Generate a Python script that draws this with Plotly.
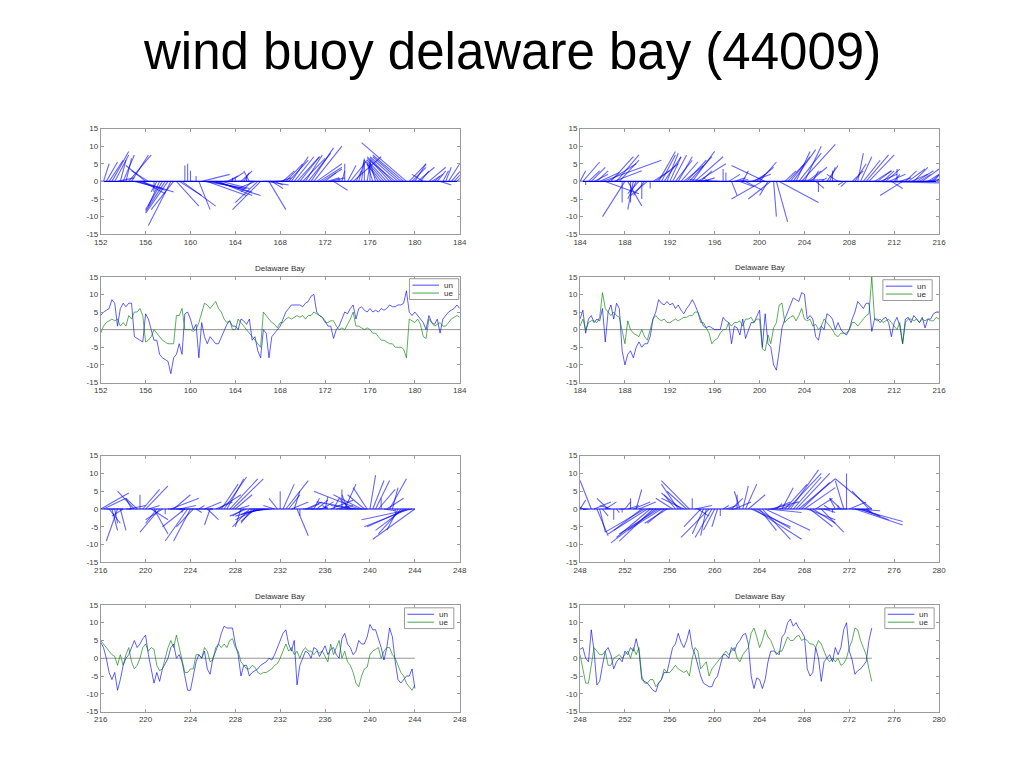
import numpy as np
import plotly.graph_objects as go

TITLE = "wind buoy delaware bay (44009)"
PANEL_TITLE = "Delaware Bay"
LEGEND_NAMES = ["un", "ue"]
STEP_DAYS = 0.25          # spacing of the readings below (days)
STICK_SCALE = 0.5         # days of x-offset per m/s of ue in the stick plots
Y_TICKS = [-15, -10, -5, 0, 5, 10, 15]

# ---------------- panel 1 : day 152 - 184 ----------------
p1_start = 152
p1_xticks = [152, 156, 160, 164, 168, 172, 176, 180, 184]
p1_un = [
    4, 5, 5.5, 6,          # 152
    8.5, 7.5, 1, 6,        # 153
    7.5, 6.5, 7.5, 7.5,    # 154
    -2, -2.5, -3, -3.5,    # 155
    4.5, 3, 0, -3,         # 156
    -3, -7, -8, -8.5,      # 157
    -9, -12.5, -8, -7,     # 158
    -4, -7, 4.5, 5,        # 159
    3, 0, 1.5, -8,         # 160
    2, -2, -4, -2,         # 161
    -3, -4, -4, -2,        # 162
    0, 1.5, 2.5, 1,        # 163
    1, 0, 3, 2.5,          # 164
    1.5, 3, -3, -2,        # 165
    -6, -8, 0, -1,         # 166
    -8, -2, -1, 0,         # 167
    1, 3, 5, 6,            # 168
    7, 7, 7, 7,            # 169
    6.5, 7.5, 8, 9.5,      # 170
    10, 5, 4, 3.5,         # 171
    2.5, 1, 1, -2.5,       # 172
    0, 1, 3, 5,            # 173
    4.5, 6, 7, 3,          # 174
    6, 6.5, 5.5, 5,        # 175
    6, 5, 5.5, 5,          # 176
    6, 5.5, 6, 7,          # 177
    6.5, 6.5, 7, 7,        # 178
    7.5, 11, 5, 4,         # 179
    5, 4, 3, 2,            # 180
    0, 4, 2, 1.5,          # 181
    3, -1, 3, 4,           # 182
    5, 5.5, 6, 7,          # 183
    6,                     # 184
]
p1_ue = [
    -1, 1, 2, 2.5,         # 152
    3, 2.5, 3, 1,          # 153
    2, 1, 4, 3,            # 154
    5, 5, 6, 4,            # 155
    -3.5, -3, -2, 0,       # 156
    -1, -2, -3, -3.5,      # 157
    -4, -4, -4, 4,         # 158
    4, 6, 0, 0,            # 159
    0, -0.5, 0, 2,         # 160
    5, 7.5, 7, 6,          # 161
    7, 8, 6, 5,            # 162
    3, 2, 2.5, 0,          # 163
    0, 3, 2, 1,            # 164
    0, -1, -2, -3,         # 165
    -4, -5, 5, 4,          # 166
    3, 2, 1.5, 0.5,        # 167
    2, 2, 3, 3.5,          # 168
    3, 3.5, 4, 3.5,        # 169
    4, 3, 4, 4,            # 170
    5, 4.5, 4, 3.5,        # 171
    2, 2, 2.5, 2.5,        # 172
    1, 0, 0.5, 0,          # 173
    1.5, 3, 5, 1,          # 174
    1, 0.5, 0, 0.5,        # 175
    0, -1, -1, -2,         # 176
    -3, -3, -3.5, -4,      # 177
    -4, -5, -5, -5,        # 178
    -5.5, -8, 3, 2.5,      # 179
    2, 3, 1.5, -2,         # 180
    -2.5, 3, 2, 1,         # 181
    1.5, 2, 1, 1,          # 182
    2, 3, 3.5, 4,          # 183
    3.5,                   # 184
]

# ---------------- panel 2 : day 184 - 216 ----------------
p2_start = 184
p2_xticks = [184, 188, 192, 196, 200, 204, 208, 212, 216]
p2_un = [
    3, 5.5, -1, 3,         # 184
    4, 2, 3, 2.5,          # 185
    6, -3.5, 5, 7,         # 186
    3, 7.5, 6, -6,         # 187
    -10, -7, -6, -8,       # 188
    -5, -3.5, -5, -4,      # 189
    -4, -2, 3, 5,          # 190
    8.5, 7.5, 7, 8,        # 191
    7, 7.5, 6, 7,          # 192
    5.5, 4.5, 6, 7,        # 193
    8.5, 7, 5, 3,          # 194
    1, 0.5, 1, 0.5,        # 195
    0, 0, 0, 3.5,          # 196
    2.5, 2, -4, 1,         # 197
    0.5, -1.5, 3, -2.5,    # 198
    0, 2, 2, 4,            # 199
    5.5, -5, 4.5, -4,      # 200
    -5, -10, -11.5, -6,    # 201
    0.5, 3, 5, 7,          # 202
    9, 8.5, 8, 10.5,       # 203
    10, 3, 4, 3,           # 204
    -2, -3, 1, 0,          # 205
    4.5, 4, 3, 0,          # 206
    2, 0, -1, -1.5,        # 207
    0, 3, 5, 8,            # 208
    7, 6, 7.5, 7.5,        # 209
    -0.5, 3, 3, 2,         # 210
    3, 3.5, 2, -2,         # 211
    2, 3.5, 1, -4,         # 212
    3, 3.5, 2, 4,          # 213
    3, 2, 3.5, 0.5,        # 214
    3, 3, 4.5, 5,          # 215
    5,                     # 216
]
p2_ue = [
    1, 3, 0, 2,            # 184
    2.5, 2.5, 2, 3.5,      # 185
    10.5, 6, 5, 4,         # 186
    5, 4, 3.5, 0,          # 187
    -4, 2.5, 0, -1,        # 188
    -1.5, -2, 0, -2,       # 189
    -3, 0, 3, 4,           # 190
    3, 2.5, 3, 2,          # 191
    2, 2.5, 3, 2.5,        # 192
    3, 3.5, 3.5, 4,        # 193
    4, 5, 5, 2,            # 194
    2, 0.5, -1, -4,        # 195
    -3, -2.5, -1, 0,       # 196
    0, 2, 1, 2,            # 197
    2, 2.5, 1, 3,          # 198
    3, 3.5, 2, 3,          # 199
    3, -5.5, -6, -1.5,     # 200
    -4, 0.5, 2, 7,         # 201
    7.5, 2, 3, 3.5,        # 202
    4, 2.5, 4, 6,          # 203
    3, 2.5, 3, 1,          # 204
    1.5, 0, 1, 3,          # 205
    2, 1, 0, -1.5,         # 206
    -2, -1, -1, -1,        # 207
    0, 2, 2, 1,            # 208
    2, 3, 4, 4.5,          # 209
    15, 3, 2.5, 3,         # 210
    2, 2.5, 3, 2,          # 211
    1, 0, 2, -4,           # 212
    2, 3, 3, 2.5,          # 213
    3, 2, 3, 2.5,          # 214
    3, 2.5, 2.5, 3.5,      # 215
    3,                     # 216
]

# ---------------- panel 3 : day 216 - 248 (data to 244) ----------------
p3_start = 216
p3_xticks = [216, 220, 224, 228, 232, 236, 240, 244, 248]
p3_un = [
    4.5, 3, 0, -4,         # 216
    -6, -4, -9, -6,        # 217
    -2, 0, 1, 3,           # 218
    5, 3, 4, 5.5,          # 219
    6.5, 1, -3, -7,        # 220
    -4, -6.5, -3, -1.5,    # 221
    0, 3, 4, 0,            # 222
    1, -1, -5, -9,         # 223
    -9, -5, -1, 1,         # 224
    0, 2, -3, -4.5,        # 225
    0, 2, 4, 7,            # 226
    9, 8.5, 8.5, 8.5,      # 227
    4, 1, -5, -2,          # 228
    -2, -5, -4, -3.5,      # 229
    -3, -2, -1.5, -1,      # 230
    0, -0.5, 1, 3,         # 231
    5, 7, 8, 4,            # 232
    2, 5, -7.5, -2,        # 233
    0, 2, 1.5, 0,          # 234
    3, 2.5, 0.5, 2,        # 235
    3.5, 1, 2.5, 3,        # 236
    1, 0, 5.5, 7,          # 237
    4, 3, 1, 2,            # 238
    5, 4, 4, 6,            # 239
    9.5, 8, 8, 5.5,        # 240
    3, -0.5, 3, 8.5,       # 241
    6, -1, -6, -7,         # 242
    -6, -5, -5, -3,        # 243
    -8.5,                  # 244
]
p3_ue = [
    5, 4, 3, 2,            # 216
    1, 0.5, -2, 1,         # 217
    -2, 1, 3, -1,          # 218
    -3, -2, 0, 3,          # 219
    4, 2, 3, 2.5,          # 220
    -2, -3.5, -3, 0,       # 221
    3, 5, 3, 6.5,          # 222
    3, 0, -4, -4,          # 223
    -3, -3, 1, 1,          # 224
    0, 3, 2, -1,           # 225
    -0.5, 3, 4, 3,         # 226
    4, 3, 5, 5.5,          # 227
    3, 2, -1, -2,          # 228
    -3, -3, -2, -2.5,      # 229
    -4, -4.5, -4, -4,      # 230
    -3.5, -3, -2, -1.5,    # 231
    0, 2, 4, 2,            # 232
    3, 1, 2, 0,            # 233
    2, 3, 2, 2,            # 234
    1, 2, 1.5, 2,          # 235
    0.5, -1, 4, 1,         # 236
    3, 5, 0, 2,            # 237
    -1, -2, -4, -7,        # 238
    -8, -5, -3, -2.5,      # 239
    1, 2, 2.5, 3,          # 240
    0, 2, 3, 3,            # 241
    1, 0, -2, -4,          # 242
    -5, -7, -8, -9,        # 243
    -7.5,                  # 244
]

# ---------------- panel 4 : day 248 - 280 (data to 274) ----------------
p4_start = 248
p4_xticks = [248, 252, 256, 260, 264, 268, 272, 276, 280]
p4_un = [
    2.5, 3, 0, -1,         # 248
    8, 2, -7.5, -6.5,      # 249
    -2, 2, 3, 1,           # 250
    -3, -1, 0, -1,         # 251
    2, 1, 3, 2,            # 252
    5.5, 2, -6, -6.5,      # 253
    -7, -8, -9, -9.5,      # 254
    -7, -6, -4, -4,        # 255
    0, 3, 4, 7,            # 256
    4.5, 3, 5, 8,          # 257
    3, 1, -2, -5,          # 258
    -7, -7.5, -8, -8,      # 259
    -6, -5, -2, 1,         # 260
    1, 0, 3, 2,            # 261
    4, 5, 6.5, 7,          # 262
    4, -5, -8.5, -5.5,     # 263
    -6, -8.5, -6, -1,      # 264
    2, 2, 1.5, 1,          # 265
    6, 7, 10, 11,          # 266
    9, 10, 8.5, 7.5,       # 267
    6, -3, -5, -4,         # 268
    3, 0, -6.5, -1,        # 269
    0, 1, -1, 3,           # 270
    1, 3, 8, 10,           # 271
    2, -0.5, -4.5, -3.5,   # 272
    -3, -2, -1, 5,         # 273
    8.5,                   # 274
]
p4_ue = [
    1, -3, -7, -7,         # 248
    -2, 3, 2, 1,           # 249
    1, 2, -2, -2,          # 250
    0, 0.5, 1, 0,          # 251
    1, 2, 0, 3,            # 252
    1, 3, -5, -7,          # 253
    -7, -6, -6, -8,        # 254
    -7, -6, -3, -4,        # 255
    -4, -3, -2, -3,        # 256
    -3.5, -4, -3.5, -5,    # 257
    0, 3, 2, -3,           # 258
    -2, -1, -5, -3,        # 259
    -2, -1, 0, 1,          # 260
    2, 1, 2, 3,            # 261
    0, -1, 1, 2,           # 262
    3, 7, 8.5, 6,          # 263
    3, 5, 8, 6,            # 264
    5, 3, 1, 2,            # 265
    2, 4, 6, 5,            # 266
    5, 6, 6.5, 5,          # 267
    5.5, 5, 4, 4,          # 268
    3, 5, 4, 2,            # 269
    0, -1, 0, -1,          # 270
    0, -2, -1.5, 0,        # 271
    3, 5, 8.5, 8,          # 272
    5, 3, 1, -3,           # 273
    -6.5,                  # 274
]

panels = [
    dict(start=p1_start, xticks=p1_xticks, un=p1_un, ue=p1_ue),
    dict(start=p2_start, xticks=p2_xticks, un=p2_un, ue=p2_ue),
    dict(start=p3_start, xticks=p3_xticks, un=p3_un, ue=p3_ue),
    dict(start=p4_start, xticks=p4_xticks, un=p4_un, ue=p4_ue),
]

# ---------------- layout geometry ----------------
W, H = 1024, 768
col_dom = [[95 / W, 459 / W], [581 / W, 945 / W]]
row_px = [((126, 233), (276, 383)), ((457, 565), (608, 716))]  # (stick, series) top/bottom px


def ydom(top, bot):
    return [1 - bot / H, 1 - top / H]


legend_pos = [(458, 278), (938, 279), (453, 611), (940, 611)]  # right, top px of legend box
subtitle_y = [268, 267, 600, 600]

UN_COLOR = "rgba(0,0,255,0.8)"
UE_COLOR = "rgba(0,128,0,0.8)"
STICK_COLOR = "rgba(0,0,255,0.6)"
AXIS_COLOR = "#9a9a9a"
FONT_FAMILY = "Liberation Sans, Arial, sans-serif"
TICK_FONT = dict(family=FONT_FAMILY, size=8, color="#404040")
SMALL_FONT = dict(family=FONT_FAMILY, size=8, color="#303030")

fig = go.Figure()
layout = {}
annotations = []
shapes = []


def px_x(v):
    return v / W


def px_y(v):
    return 1 - v / H


for i, p in enumerate(panels):
    un = np.asarray(p["un"], dtype=float)
    ue = np.asarray(p["ue"], dtype=float)
    n = min(len(un), len(ue))
    un, ue = un[:n], ue[:n]
    t = p["start"] + STEP_DAYS * np.arange(n)
    col = i % 2
    row = i // 2
    ks = 2 * i + 1
    kt = 2 * i + 2
    xr = [p["xticks"][0], p["xticks"][-1]]

    def ax(k):
        return ("x" if k == 1 else f"x{k}"), ("y" if k == 1 else f"y{k}")

    xs_id, ys_id = ax(ks)
    xt_id, yt_id = ax(kt)

    # stick plot: each reading drawn as a vector from (t, 0) to (t + s*ue, un)
    sx, sy = [], []
    for tt, a, b in zip(t, un, ue):
        sx += [float(tt), float(tt + STICK_SCALE * b), None]
        sy += [0.0, float(a), None]
    fig.add_trace(go.Scatter(x=sx, y=sy, mode="lines", xaxis=xs_id, yaxis=ys_id,
                             line=dict(color=STICK_COLOR, width=1.1),
                             showlegend=False, hoverinfo="skip"))
    fig.add_trace(go.Scatter(x=[t[0], t[-1]], y=[0, 0], mode="lines", xaxis=xs_id, yaxis=ys_id,
                             line=dict(color="rgb(0,0,255)", width=1.2),
                             showlegend=False, hoverinfo="skip"))

    # time series
    fig.add_trace(go.Scatter(x=[t[0], t[-1]], y=[0, 0], mode="lines", xaxis=xt_id, yaxis=yt_id,
                             line=dict(color="#8a8a8a", width=0.9),
                             showlegend=False, hoverinfo="skip"))
    fig.add_trace(go.Scatter(x=t, y=un, mode="lines", name=LEGEND_NAMES[0], xaxis=xt_id, yaxis=yt_id,
                             line=dict(color=UN_COLOR, width=0.8), showlegend=False))
    fig.add_trace(go.Scatter(x=t, y=ue, mode="lines", name=LEGEND_NAMES[1], xaxis=xt_id, yaxis=yt_id,
                             line=dict(color=UE_COLOR, width=0.8), showlegend=False))

    for k, (top, bot) in zip((ks, kt), row_px[row]):
        xa = dict(domain=col_dom[col], anchor=("y" if k == 1 else f"y{k}"), range=xr,
                  tickvals=p["xticks"], ticktext=[str(v) for v in p["xticks"]],
                  showline=True, linecolor=AXIS_COLOR, linewidth=1, mirror="ticks",
                  ticks="inside", ticklen=3, tickcolor=AXIS_COLOR,
                  showgrid=False, zeroline=False, tickfont=TICK_FONT, fixedrange=True)
        ya = dict(domain=ydom(top, bot), anchor=("x" if k == 1 else f"x{k}"), range=[-15, 15],
                  tickvals=Y_TICKS, ticktext=[str(v) for v in Y_TICKS],
                  showline=True, linecolor=AXIS_COLOR, linewidth=1, mirror="ticks",
                  ticks="inside", ticklen=3, tickcolor=AXIS_COLOR,
                  showgrid=False, zeroline=False, tickfont=TICK_FONT, fixedrange=True)
        layout["xaxis" if k == 1 else f"xaxis{k}"] = xa
        layout["yaxis" if k == 1 else f"yaxis{k}"] = ya

    # compact MATLAB-style legend box (sample line on the left, label on the right)
    lx, ly = legend_pos[i]
    shapes.append(dict(type="rect", xref="paper", yref="paper",
                       x0=px_x(lx - 50), x1=px_x(lx), y0=px_y(ly + 21), y1=px_y(ly),
                       line=dict(color="#9a9a9a", width=1), fillcolor="white", layer="above"))
    for j, (name, colr) in enumerate(zip(LEGEND_NAMES, (UN_COLOR, UE_COLOR))):
        yy = ly + 6.5 + 8 * j
        shapes.append(dict(type="line", xref="paper", yref="paper",
                           x0=px_x(lx - 47), x1=px_x(lx - 20), y0=px_y(yy), y1=px_y(yy),
                           line=dict(color=colr, width=0.9), layer="above"))
        annotations.append(dict(text=name, xref="paper", yref="paper",
                                x=px_x(lx - 17), y=px_y(yy), xanchor="left", yanchor="middle",
                                showarrow=False, font=SMALL_FONT))

    annotations.append(dict(text=PANEL_TITLE, xref="paper", yref="paper",
                            x=(col_dom[col][0] + col_dom[col][1]) / 2, y=px_y(subtitle_y[i]),
                            xanchor="center", yanchor="middle", showarrow=False,
                            font=SMALL_FONT))

annotations.append(dict(text=TITLE, xref="paper", yref="paper", x=0.5, y=px_y(48),
                        xanchor="center", yanchor="middle", showarrow=False,
                        font=dict(family=FONT_FAMILY, size=51, color="black")))

fig.update_layout(**layout)
fig.update_layout(width=W, height=H, margin=dict(l=0, r=0, t=0, b=0),
                  paper_bgcolor="white", plot_bgcolor="white", showlegend=False,
                  annotations=annotations, shapes=shapes, hovermode=False)

fig.write_html("out.html", post_script="document.body.style.margin='0';",
               config={"displayModeBar": False})
